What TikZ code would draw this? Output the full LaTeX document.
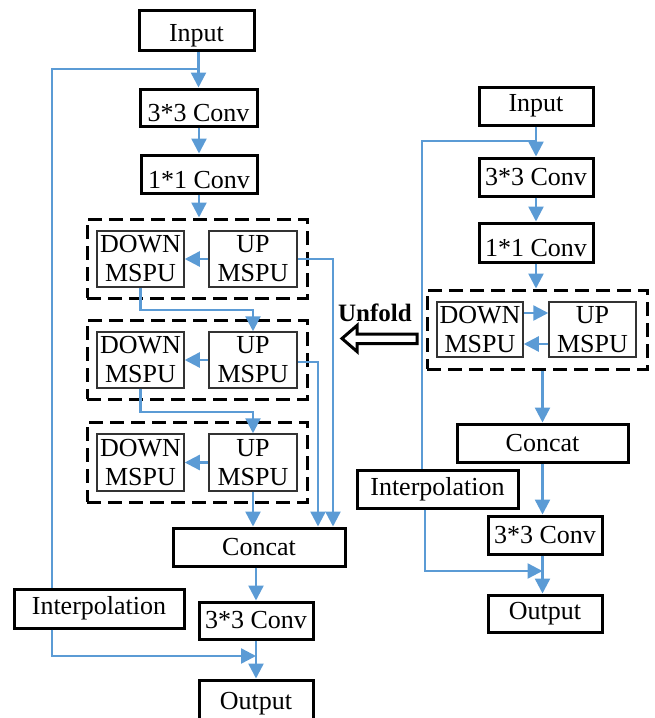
\documentclass[tikz,border=0pt]{standalone}
\usepackage{fontspec}
\setmainfont{Liberation Serif}
\usetikzlibrary{arrows.meta}
\definecolor{lblue}{HTML}{5B9BD5}
\newcommand\lowtxt[1]{\raisebox{-6pt}[\height][\depth]{#1}}
\begin{document}
\begin{tikzpicture}[x=1pt,y=-1pt,
  box/.style={draw=black, line width=3pt, inner sep=0pt, font=\fontsize{26}{29}\selectfont, align=center},
  unitbox/.style={draw=black!80, line width=1.5pt, inner sep=0pt, font=\fontsize{26}{29}\selectfont, align=center},
  group/.style={draw=black, line width=3pt, dash pattern=on 14pt off 7pt, inner sep=0pt},
  conn/.style={draw=lblue, line width=2.4pt, -{Triangle[length=15pt,width=15pt]}},
  link/.style={draw=lblue, line width=2.4pt},
]
\useasboundingbox (0,0) rectangle (655,718);
\clip (0,0) rectangle (655,718);

% ---------------- left column ----------------
\node[box, minimum width=115pt, minimum height=40pt] (inL) at (196.5,30) {\lowtxt{Input}};
\node[box, minimum width=117pt, minimum height=37pt] (c3L) at (198.5,107.5) {\lowtxt{3*3 Conv}};
\node[box, minimum width=116pt, minimum height=38pt] (c1L) at (199,174) {\lowtxt{1*1 Conv}};

\node[group, minimum width=220pt, minimum height=79pt] (g1) at (197,258.5) {};
\node[group, minimum width=220pt, minimum height=79pt] (g2) at (197,359.5) {};
\node[group, minimum width=220pt, minimum height=80pt] (g3) at (197,462) {};

\node[unitbox, minimum width=87pt, minimum height=56pt] (d1) at (140.5,259) {DOWN\\MSPU};
\node[unitbox, minimum width=88pt, minimum height=56pt] (u1) at (253,259) {UP\\MSPU};
\node[unitbox, minimum width=87pt, minimum height=56pt] (d2) at (140.5,360) {DOWN\\MSPU};
\node[unitbox, minimum width=88pt, minimum height=56pt] (u2) at (253,360) {UP\\MSPU};
\node[unitbox, minimum width=87pt, minimum height=57pt] (d3) at (140.5,462.5) {DOWN\\MSPU};
\node[unitbox, minimum width=88pt, minimum height=57pt] (u3) at (253,462.5) {UP\\MSPU};

\node[box, minimum width=172pt, minimum height=38pt] (cL) at (259,547) {Concat};
\node[box, minimum width=114pt, minimum height=37pt] (c3L2) at (256,620.5) {3*3 Conv};
\node[box, minimum width=170pt, minimum height=39pt] (iL) at (99,608.5) {Interpolation};
\node[box, minimum width=114pt, minimum height=44pt] (oL) at (256,702) {\raisebox{-2pt}[\height][\depth]{Output}};

\coordinate (skipL) at (52,69);
\coordinate (r1) at (333,0);
\coordinate (r2) at (318,0);
\coordinate (mergeL) at (256,656);

\draw[conn] (c3L.north |- inL.south) -- (c3L.north);
\draw[link] (skipL -| c3L.north) -- (skipL) -- (skipL |- iL.north);
\draw[conn] (c3L.south -| c1L.north) -- (c1L.north);
\draw[conn] (c1L.south) -- (c1L.south |- g1.north);

\draw[conn] (u1.west) -- (d1.east);
\draw[conn] (u2.west) -- (d2.east);
\draw[conn] (u3.west) -- (d3.east);

\draw[conn] (d1.south) -- ++(0,22) -| (u2.north);
\draw[conn] (d2.south) -- ++(0,23) -| (u3.north);

\draw[conn] (u1.east) -| (r1 |- cL.north);
\draw[conn] ([yshift=-2pt]u2.east) -| (r2 |- cL.north);
\draw[conn] (u3.south) -- (u3.south |- cL.north);

\draw[conn] (cL.south -| c3L2.north) -- (c3L2.north);
\draw[conn] (skipL |- iL.south) -- (skipL |- mergeL) -- (mergeL);
\draw[conn] (c3L2.south) -- (oL.north);

% ---------------- unfold arrow ----------------
\node[inner sep=0pt, font=\fontsize{25}{28}\selectfont\bfseries] (unf) at (375,313) {Unfold};
\draw[line width=3pt, fill=white, line join=miter]
  (417,334) -- (357,334) -- (357,325.5) -- (342,338.5) -- (357,351.5) -- (357,343.5) -- (417,343.5) -- cycle;

% ---------------- right column ----------------
\node[box, minimum width=114pt, minimum height=38pt] (inR) at (536,106) {Input};
\node[box, minimum width=114pt, minimum height=38pt] (c3R) at (536,177) {3*3 Conv};
\node[box, minimum width=114pt, minimum height=39pt] (c1R) at (536,242.5) {\lowtxt{1*1 Conv}};

\node[group, minimum width=220pt, minimum height=79pt] (gR) at (537,329.5) {};
\node[unitbox, minimum width=86pt, minimum height=55pt] (dR) at (480,329.5) {DOWN\\MSPU};
\node[unitbox, minimum width=87pt, minimum height=55pt] (uR) at (592.5,329.5) {UP\\MSPU};

\node[box, minimum width=171pt, minimum height=38pt] (cR) at (542.5,443) {Concat};
\node[box, minimum width=161pt, minimum height=38pt] (iR) at (437.5,489) {Interpolation};
\node[box, minimum width=114pt, minimum height=38pt] (c3R2) at (545,535) {3*3 Conv};
\node[box, minimum width=114pt, minimum height=37pt] (oR) at (545,613.5) {Output};

\coordinate (skipR) at (422,141);
\coordinate (jR) at (425,571);

\draw[conn] (inR.south) -- (c3R.north);
\draw[link] (skipR -| inR.south) -- (skipR) -- (skipR |- iR.north);
\draw[conn] (c3R.south) -- (c1R.north);
\draw[conn] (c1R.south) -- (c1R.south |- gR.north);
\draw[conn] ([yshift=16.5pt]dR.east) -- ([yshift=16.5pt]uR.west);
\draw[conn] ([yshift=-14.5pt]uR.west) -- ([yshift=-14.5pt]dR.east);
\draw[conn] (cR.north |- gR.south) -- (cR.north);
\draw[conn] (cR.south) -- (cR.south |- c3R2.north);
\draw[conn] (jR |- iR.south) -- (jR) -- (jR -| cR.south);
\draw[conn] (c3R2.south -| cR.south) -- (oR.north -| cR.south);
\end{tikzpicture}
\end{document}
